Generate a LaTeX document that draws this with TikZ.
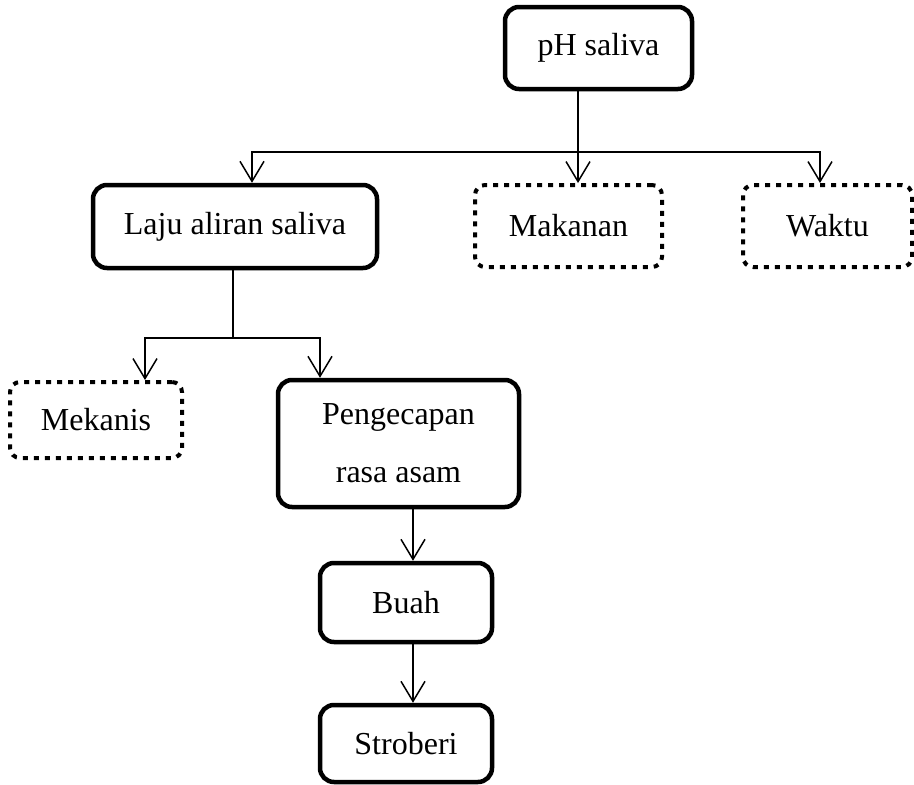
\documentclass[tikz,border=0pt]{standalone}
\usepackage{fontspec}
\setmainfont{Liberation Serif}
\usetikzlibrary{positioning,calc,arrows.meta}
\tikzset{solidbox/.style={draw, line width=4.5pt, rounded corners=14pt, inner sep=0pt, align=center, font=\fontsize{32}{58}\selectfont}}
\tikzset{dotbox/.style={draw, line width=4pt, dash pattern=on 5pt off 6pt, rounded corners=10pt, inner sep=0pt, align=center, font=\fontsize{32}{40}\selectfont}}
\tikzset{conn/.style={draw, line width=1.5pt}}
\tikzset{arr/.style={conn, -{Straight Barb[length=20pt,width=24pt,line width=1.5pt]}}}

\begin{document}
\begin{tikzpicture}[x=1pt,y=-1pt]
				\useasboundingbox (0,0) rectangle (914,785);
				\node[solidbox, minimum width=187pt, minimum height=82pt] (ph) at (598.5,48) {pH saliva};
				\node[solidbox, minimum width=284pt, minimum height=83pt] (laju) at (235,226.5) {Laju aliran saliva};
				\node[dotbox, minimum width=187pt, minimum height=82pt] (makanan) at (568.5,226) {Makanan};
				\node[dotbox, minimum width=169pt, minimum height=82pt] (waktu) at (827.5,226) {Waktu};
				\node[dotbox, minimum width=172pt, minimum height=76pt] (mekanis) at (96,420) {Mekanis};
				\node[solidbox, minimum width=241pt, minimum height=127pt] (pengecapan) at (398.5,443.5) {Pengecapan\\rasa asam};
				\node[solidbox, minimum width=172pt, minimum height=79pt] (buah) at (406,602.5) {Buah};
				\node[solidbox, minimum width=172pt, minimum height=77pt] (stroberi) at (406,743.5) {Stroberi};
				\coordinate (h1) at (578,152);
				\coordinate (h2) at (233,338);
				\coordinate (v3) at ([xshift=7pt]buah.north);
				\draw[conn] (ph.south -| h1) -- (h1);
				\draw[arr] (h1) -| ([xshift=17pt]laju.north);
				\draw[arr] (h1) -- (makanan.north -| h1);
				\draw[arr] (h1) -| ([xshift=-7.5pt]waktu.north);
				\draw[conn] (laju.south -| h2) -- (h2);
				\draw[arr] (h2) -| ([xshift=49pt]mekanis.north);
				\draw[arr] (h2) -| ([xshift=-78.5pt]pengecapan.north);
				\draw[arr] (pengecapan.south -| v3) -- (v3);
				\draw[arr] (buah.south -| v3) -- (stroberi.north -| v3);
			\end{tikzpicture}
\end{document}
